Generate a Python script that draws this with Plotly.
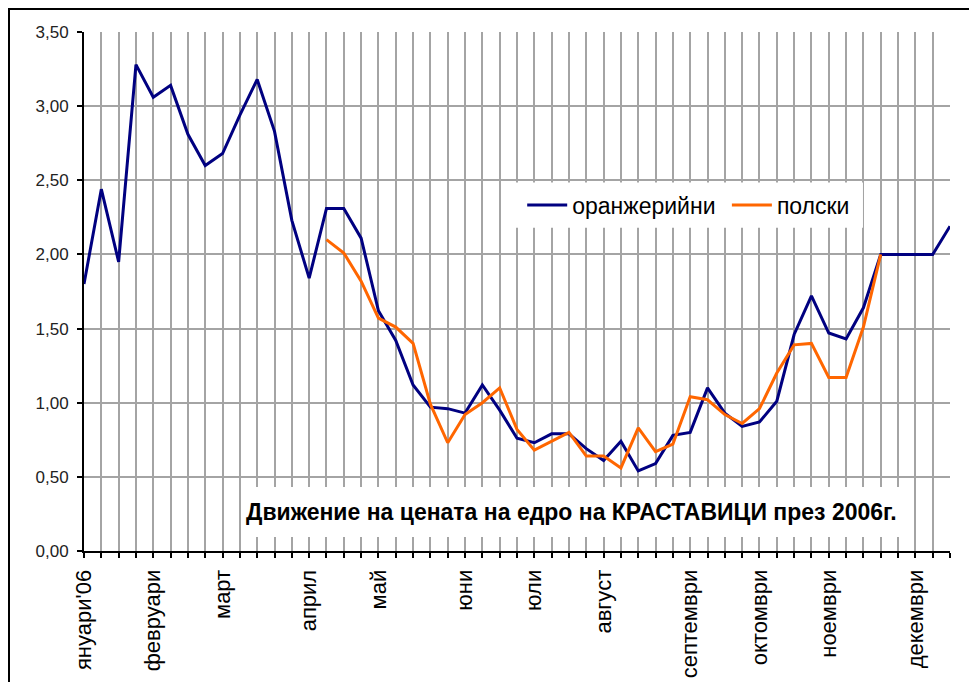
import plotly.graph_objects as go

# category index (weeks of 2006) and month labels
weeks = list(range(51))
month_pos = [0, 4, 8, 13, 17, 22, 26, 30, 35, 39, 43, 48]
month_names = ["януари'06", "февруари", "март", "април", "май", "юни",
               "юли", "август", "септември", "октомври", "ноември", "декември"]

greenhouse = [1.80, 2.44, 1.95, 3.28, 3.06, 3.14, 2.81, 2.60, 2.68, 2.94,
              3.18, 2.83, 2.23, 1.84, 2.31, 2.31, 2.11, 1.62, 1.42, 1.12,
              0.97, 0.96, 0.93, 1.12, 0.95, 0.76, 0.73, 0.79, 0.79, 0.69,
              0.61, 0.74, 0.54, 0.59, 0.78, 0.80, 1.10, 0.93, 0.84, 0.87,
              1.01, 1.46, 1.72, 1.47, 1.43, 1.64, 2.00, 2.00, 2.00, 2.00,
              2.19]

field = [None] * 14 + [2.10, 2.01, 1.82, 1.57, 1.51, 1.40, 0.99, 0.73, 0.92,
                       1.00, 1.10, 0.82, 0.68, 0.74, 0.80, 0.64, 0.64, 0.56,
                       0.83, 0.67, 0.72, 1.04, 1.02, 0.92, 0.86, 0.96, 1.20,
                       1.39, 1.40, 1.17, 1.17, 1.51, 2.00] + [None] * 4

y_ticks = [0, 0.5, 1.0, 1.5, 2.0, 2.5, 3.0, 3.5]

tick_text = [""] * len(weeks)
for p, n in zip(month_pos, month_names):
    tick_text[p] = n

fig = go.Figure()
fig.add_trace(go.Scatter(x=weeks, y=greenhouse, mode="lines", name="оранжерийни ",
                         line=dict(color="#000080", width=3)))
fig.add_trace(go.Scatter(x=weeks, y=field, mode="lines", name="полски",
                         line=dict(color="#FF6600", width=3)))

grid = "#a4a4a4"
W, H = 961, 674
L, T, B = 76, 24, 131
R = W - L - 866
PH = H - T - B

fig.update_layout(
    width=W, height=H,
    margin=dict(l=L, r=R, t=T, b=B, autoexpand=False),
    paper_bgcolor="white", plot_bgcolor="white",
    separators=", ",
    font=dict(family="Liberation Sans, Arial, sans-serif", color="black"),
    showlegend=True,
    legend=dict(orientation="h", x=0.506, y=0.708, xanchor="left", yanchor="top",
                bgcolor="rgba(0,0,0,0)", font=dict(size=23),
                itemwidth=40, tracegroupgap=0),
    shapes=[
        dict(type="rect", xref="paper", yref="paper", x0=0.488, x1=0.8995,
             y0=0.623, y1=0.710, fillcolor="white", line=dict(width=0),
             layer="above"),
        dict(type="rect", xref="paper", yref="paper", x0=0.189, x1=0.948,
             y0=0.027, y1=0.1234, fillcolor="white", line=dict(width=0),
             layer="above"),
        dict(type="rect", xref="paper", yref="paper", x0=(0.5 - L) / 866,
             x1=1.3, y0=-0.5, y1=(T + PH - 0.5) / PH,
             line=dict(color="black", width=3), fillcolor="rgba(0,0,0,0)",
             layer="above"),
    ],
    annotations=[
        dict(text="<b>Движение на цената на едро на КРАСТАВИЦИ през 2006г.</b>",
             xref="paper", yref="paper", x=0.5635, y=0.075,
             xanchor="center", yanchor="middle", showarrow=False,
             font=dict(size=23, color="black")),
    ],
)

fig.update_xaxes(range=[0, 50], tickmode="array", tickvals=weeks, ticktext=tick_text,
                 tickangle=-90, tickfont=dict(size=22, color="black"),
                 ticklabelstandoff=3, automargin=False,
                 showgrid=True, gridcolor=grid, gridwidth=1.5,
                 showline=True, linecolor="black", linewidth=2,
                 ticks="outside", ticklen=5, tickcolor="black", tickwidth=1.5,
                 zeroline=False, fixedrange=True)
fig.update_yaxes(range=[0, 3.5], tickmode="array", tickvals=y_ticks,
                 tickformat=".2f", tickfont=dict(size=17, color="#222222"),
                 ticklabelstandoff=5, automargin=False,
                 showgrid=True, gridcolor=grid, gridwidth=1.5,
                 showline=True, linecolor="black", linewidth=2,
                 ticks="outside", ticklen=5, tickcolor="black", tickwidth=1.5,
                 zeroline=False, fixedrange=True)

fig.write_html("out.html", config={"displayModeBar": False})
